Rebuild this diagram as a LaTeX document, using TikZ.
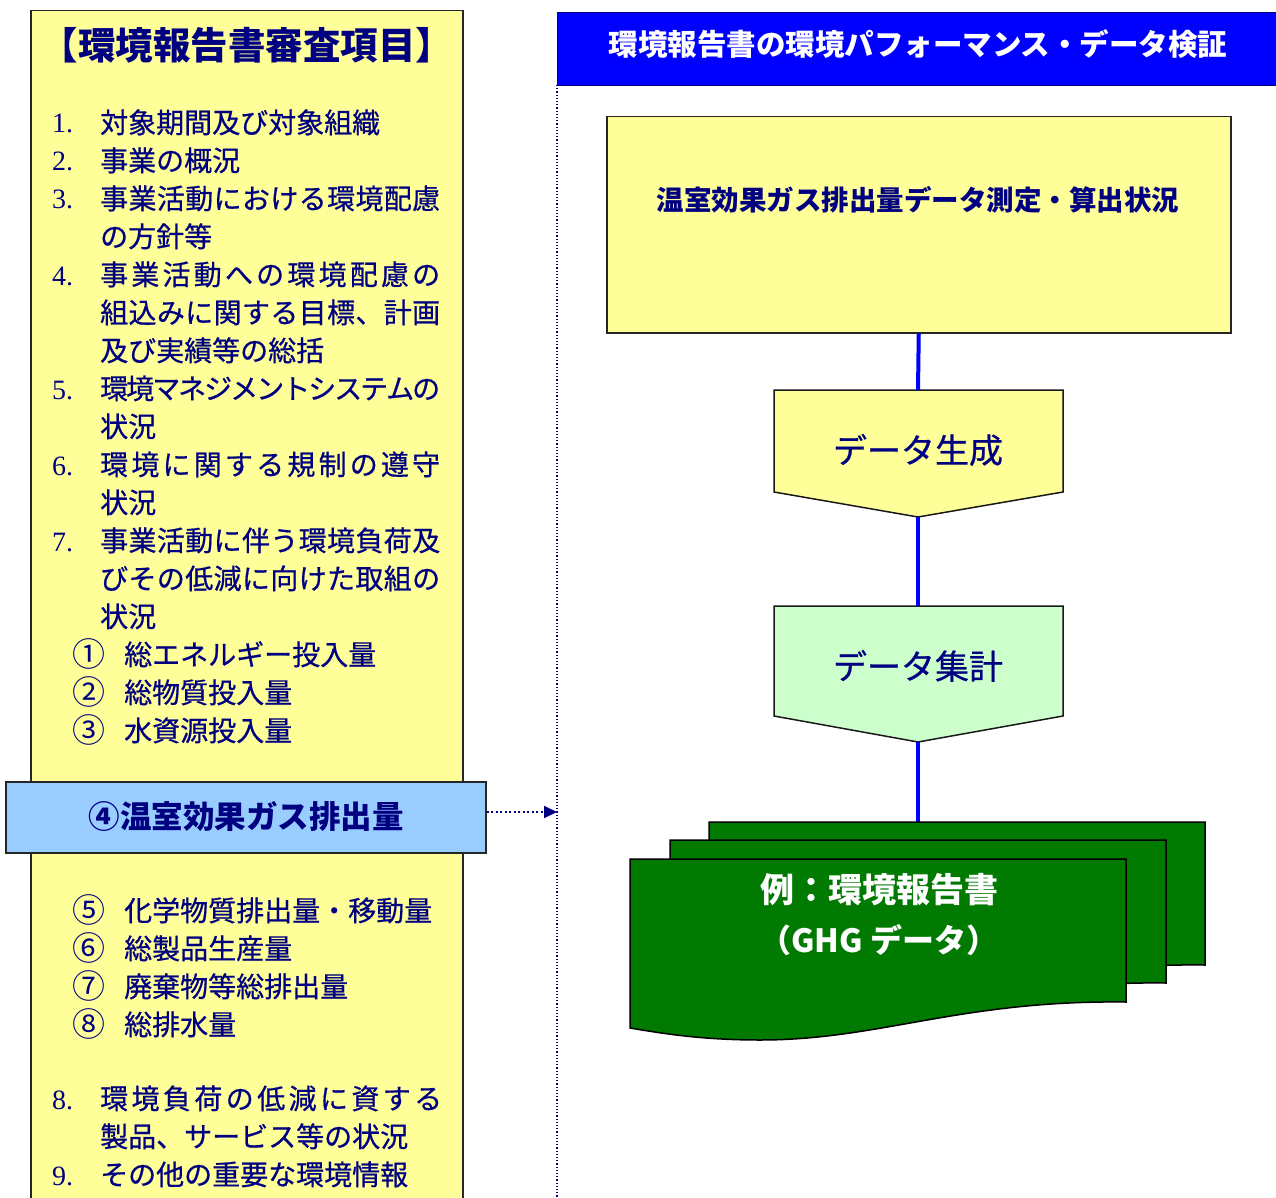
\documentclass[tikz,border=0pt]{standalone}
\usepackage{fontspec}
\setmainfont{Liberation Serif}
\newfontfamily\jp{Noto Sans CJK JP}
\newfontfamily\jpm[FakeBold=0.6]{Noto Sans CJK JP}
\usetikzlibrary{arrows.meta,calc}
\definecolor{navy}{HTML}{000080}
\definecolor{lyellow}{HTML}{FFFF99}
\definecolor{lblue}{HTML}{99CCFF}
\definecolor{lgreen}{HTML}{CCFFCC}
\definecolor{dgreen}{HTML}{007A00}
\definecolor{hblue}{HTML}{0000FF}
\makeatletter
\newcommand\spr[2]{\hbox to #1{\def\sprsep{}\@tfor\sprx:=#2\do{\sprsep\sprx\def\sprsep{\hskip 0pt plus 1fil minus 1fil}}}}
\makeatother
\tikzset{
  lt/.style={font=\jpm\fontsize{28}{28}\selectfont, text=navy, inner sep=0, anchor=base west},
  circ/.style={font=\jp\fontsize{33}{33}\selectfont, text=navy, inner sep=0, anchor=base west},
  num/.style={font=\fontsize{28}{28}\selectfont, text=navy, inner sep=0, anchor=base west},
  boxline/.style={draw=black!85, line width=1.5},
  pent/.style={draw=black!90, line width=1.5},
  conn/.style={draw=hblue, line width=4},
  docsh/.style={draw=black, line width=1.5, fill=dgreen},
}
\begin{document}
\begin{tikzpicture}[x=1pt,y=-1pt]
\useasboundingbox (0,0) rectangle (1276,1198);
% left panel
\node[boxline, fill=lyellow, minimum width=432, minimum height=1210, anchor=north west, inner sep=0] (lbox) at (30,10) {};
\node[font=\jp\bfseries\fontsize{37.5}{38}\selectfont, text=navy, inner sep=0] (title) at (247,45) {【環境報告書審査項目】};
\node[num] (n1) at (52,133) {1.};
\node[lt] (t1) at (100,133) {対象期間及び対象組織};
\node[num] (n2) at (52,171) {2.};
\node[lt] (t2) at (100,171) {事業の概況};
\node[num] (n3) at (52,209) {3.};
\node[lt] (t3a) at (100,209) {\spr{340pt}{事業活動における環境配慮}};
\node[lt] (t3b) at (100,247) {の方針等};
\node[num] (n4) at (52,285) {4.};
\node[lt] (t4a) at (100,285) {\spr{340pt}{事業活動への環境配慮の}};
\node[lt] (t4b) at (100,323) {\spr{340pt}{組込みに関する目標、計画}};
\node[lt] (t4c) at (100,361) {及び実績等の総括};
\node[num] (n5) at (52,399) {5.};
\node[lt] (t5a) at (100,399) {\spr{340pt}{環境マネジメントシステムの}};
\node[lt] (t5b) at (100,437) {状況};
\node[num] (n6) at (52,475) {6.};
\node[lt] (t6a) at (100,475) {\spr{340pt}{環境に関する規制の遵守}};
\node[lt] (t6b) at (100,513) {状況};
\node[num] (n7) at (52,551) {7.};
\node[lt] (t7a) at (100,551) {\spr{340pt}{事業活動に伴う環境負荷及}};
\node[lt] (t7b) at (100,589) {\spr{340pt}{びその低減に向けた取組の}};
\node[lt] (t7c) at (100,627) {状況};
\node[circ] (c1) at (72,666) {①};
\node[lt] (s1) at (124,665) {総エネルギー投入量};
\node[circ] (c2) at (72,704) {②};
\node[lt] (s2) at (124,703) {総物質投入量};
\node[circ] (c3) at (72,742) {③};
\node[lt] (s3) at (124,741) {水資源投入量};
\node[circ] (c5) at (72,922) {⑤};
\node[lt] (s5) at (124,921) {化学物質排出量・移動量};
\node[circ] (c6) at (72,960) {⑥};
\node[lt] (s6) at (124,959) {総製品生産量};
\node[circ] (c7) at (72,998) {⑦};
\node[lt] (s7) at (124,997) {廃棄物等総排出量};
\node[circ] (c8) at (72,1036) {⑧};
\node[lt] (s8) at (124,1035) {総排水量};
\node[num] (n8) at (52,1109) {8.};
\node[lt] (t8a) at (100,1109) {\spr{342pt}{環境負荷の低減に資する}};
\node[lt] (t8b) at (100,1147) {製品、サービス等の状況};
\node[num] (n9) at (52,1185) {9.};
\node[lt] (t9) at (100,1185) {その他の重要な環境情報};
% highlighted item
\node[boxline, fill=lblue, minimum width=480, minimum height=71, inner sep=0] (ghg) at (246,817.5) {};
\node[font=\jp\bfseries\fontsize{31.5}{32}\selectfont, text=navy, inner sep=0] (ghgt) at (246,817) {④温室効果ガス排出量};
% vertical dotted divider
\coordinate (vtop) at (557,85);
\coordinate (vbot) at (557,1200);
\draw[navy, dotted, line width=1.2] (vtop) -- (vbot);
\coordinate (vl) at (557,812);
\draw[navy, line width=2, dash pattern=on 2pt off 2.5pt, -{Triangle[length=13,width=12]}] (ghg.east |- vl) -- (vl);
% header
\node[draw=navy, line width=1, fill=hblue, minimum width=725, minimum height=73, anchor=north west, inner sep=0] (hdr) at (557,12) {};
\node[font=\jp\bfseries\fontsize{29.5}{30}\selectfont, text=white, inner sep=0] (hdrt) at (918,44) {環境報告書の環境パフォーマンス・データ検証};
% measurement box
\node[boxline, fill=lyellow, minimum width=624, minimum height=216, anchor=north west, inner sep=0] (meas) at (606,116) {};
\node[font=\jp\bfseries\fontsize{27.5}{28}\selectfont, text=navy, inner sep=0] (meast) at (918,200) {温室効果ガス排出量データ測定・算出状況};
% pentagons
\coordinate (gentop) at (918,390);
\coordinate (gentip) at (918,517);
\path[pent, fill=lyellow] (774,390) -- (1063,390) -- (1063,492) -- (gentip) -- (774,492) -- cycle;
\node[font=\jpm\fontsize{34}{34}\selectfont, text=navy, inner sep=0] (gen) at (918,450) {データ生成};
\coordinate (aggtop) at (918,606);
\coordinate (aggtip) at (918,742);
\path[pent, fill=lgreen] (774,606) -- (1063,606) -- (1063,716) -- (aggtip) -- (774,716) -- cycle;
\node[font=\jpm\fontsize{34}{34}\selectfont, text=navy, inner sep=0] (agg) at (918,666) {データ集計};
% connectors
\coordinate (doctop) at (918,822);
\draw[conn] (meas.south) -- (gentop);
\draw[conn] (gentip) -- (aggtop);
\draw[conn] (aggtip) -- (doctop);
% documents
\foreach \dx/\dy in {79/-37, 40/-19, 0/0}{
  \begin{scope}[shift={(\dx,\dy)}]
    \path[docsh] (630,859) -- (1126,859) -- (1126,1002)
      .. controls (960,1000) and (880,1040) .. (760,1040)
      .. controls (700,1040) and (660,1033) .. (630,1028) -- cycle;
  \end{scope}
}
\node[font=\jp\bfseries\fontsize{34}{34}\selectfont, text=white, inner sep=0] (doc1) at (879,890) {例：環境報告書};
\node[font=\jp\bfseries\fontsize{32}{32}\selectfont, text=white, inner sep=0] (doc2) at (879,940) {（GHG データ）};
\end{tikzpicture}
\end{document}
